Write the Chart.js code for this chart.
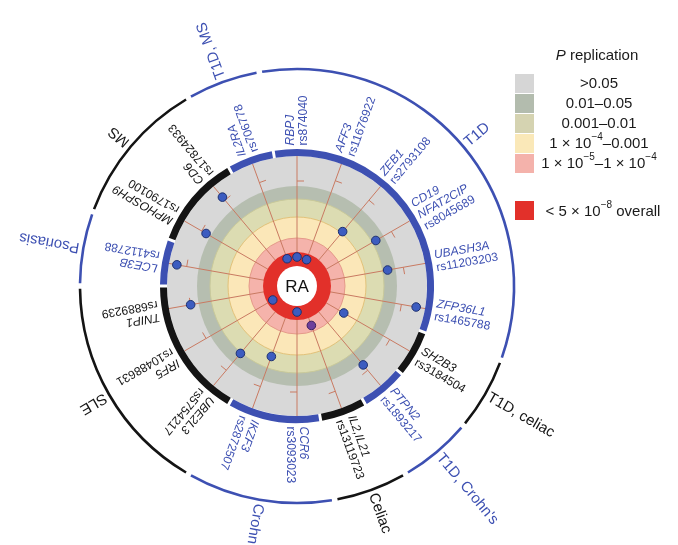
<!DOCTYPE html>
<html>
<head>
<meta charset="utf-8">
<script src="https://cdn.jsdelivr.net/npm/chart.js@4.4.0/dist/chart.umd.min.js"></script>
<style>
  html, body { margin: 0; padding: 0; background: #fff; }
  #wrap { width: 678px; height: 545px; }
</style>
</head>
<body>
<div id="wrap"><canvas id="c" width="678" height="545"></canvas></div>
<script>
// SNPs around the circle, clockwise from 12 o'clock
const genes = [['RBPJ'], ['AFF3'], ['ZEB1'], ['CD19', 'NFAT2CIP'], ['UBASH3A'], ['ZFP36L1'],
  ['SH2B3'], ['PTPN2'], ['IL2,IL21'], ['CCR6'], ['IKZF3'], ['UBE2L3'], ['IRF5'], ['TNIP1'],
  ['LCE3B'], ['MPHOSPH9'], ['CD6'], ['IL2RA']];
const snpIds = ['rs874040', 'rs11676922', 'rs2793108', 'rs8045689', 'rs11203203', 'rs1465788',
  'rs3184504', 'rs1893217', 'rs13119723', 'rs3093023', 'rs2872507', 'rs5754217', 'rs10488631',
  'rs6889239', 'rs4112788', 'rs1790100', 'rs17824933', 'rs706778'];
// radial position of each SNP marker, in ring units (see ringEdges)
const markerRadius = [29, 28, 71, 91, 92, 121, 54, 103, 42, 26, 75, 88, 28, 108, 122, 105, 116, 29];
// marker kind: 0 = replicated marker, 1 = second kind
const markerKind = [0, 0, 0, 0, 0, 0, 0, 0, 1, 0, 0, 0, 0, 0, 0, 0, 0, 0];
// short tick on each spoke, in ring units
const spokeTick = [105, 112, 112, 109, 108, 106, 107, 110, 112, 106, 107, 110, 105, 108, 112, 110, 112, 110];
// other disease(s) that share each SNP
const snpGroup = [1, 1, 1, 1, 1, 1, 2, 3, 4, 5, 5, 6, 6, 6, 7, 8, 8, 0];
const groupNames = ['T1D, MS', 'T1D', 'T1D, celiac', 'T1D, Crohn\'s', 'Celiac', 'Crohn\'s', 'SLE', 'Psoriasis', 'MS'];
// outer edge of each ring, from the centre out: RA disc, overall, then the P replication bands
const ringEdges = [20, 34, 48, 69, 87, 100, 130];
const bandLabels = ['>0.05', '0.01\u20130.05', '0.001\u20130.01', '1 \u00d7 10^{\u22124}\u20130.001',
  '1 \u00d7 10^{\u22125}\u20131 \u00d7 10^{\u22124}'];
const overallLabel = '< 5 \u00d7 10^{\u22128} overall';

// styles
const groupColorKey = [1, 1, 0, 1, 0, 1, 0, 1, 0];
const INK = ['#141414', '#3d50b2'];
const ringFill = ['#ffffff', '#e2302a', '#f5b3ab', '#fbe7b8', '#dcdcb2', '#b6beb0', '#d8d8d8'];
const legendFill = ['#d6d6d6', '#b3bcae', '#d5d3b1', '#fae8b8', '#f4b2ab'];
const SPOKE = '#c97a62';
const FONT = '"Liberation Sans", Arial, Helvetica, sans-serif';

function sectorAngle(scale, i) { return scale.getIndexAngle(i) - Math.PI / 2; }

function radialText(ctx, x0, y0, phi, r0, lines, fonts, lh, color) {
  ctx.save();
  ctx.translate(x0 + r0 * Math.cos(phi), y0 + r0 * Math.sin(phi));
  ctx.rotate(phi);
  ctx.textAlign = 'left';
  ctx.textBaseline = 'middle';
  ctx.fillStyle = color;
  lines.forEach((t, k) => {
    ctx.font = fonts[k];
    ctx.fillText(t, 0, (k - (lines.length - 1) / 2) * lh);
  });
  ctx.restore();
}

// text with ^{...} superscripts, centred on cx
function richText(ctx, str, cx, cy, size) {
  const parts = [];
  const re = /\^\{([^}]*)\}/g;
  let last = 0, m;
  while ((m = re.exec(str))) {
    if (m.index > last) parts.push({ t: str.slice(last, m.index), sup: false });
    parts.push({ t: m[1], sup: true });
    last = re.lastIndex;
  }
  if (last < str.length) parts.push({ t: str.slice(last), sup: false });
  const fNorm = size + 'px ' + FONT, fSup = Math.round(size * 0.68) + 'px ' + FONT;
  let w = 0;
  parts.forEach(p => { ctx.font = p.sup ? fSup : fNorm; p.w = ctx.measureText(p.t).width; w += p.w; });
  let x = cx - w / 2;
  ctx.textAlign = 'left';
  ctx.textBaseline = 'middle';
  parts.forEach(p => {
    ctx.font = p.sup ? fSup : fNorm;
    ctx.fillText(p.t, x, p.sup ? cy - size * 0.42 : cy);
    x += p.w;
  });
}

function groupSpans() {
  return groupNames.map((name, g) => {
    const idx = snpGroup.map((v, i) => v === g ? i : -1).filter(i => i >= 0);
    return { g, first: Math.min(...idx), last: Math.max(...idx) };
  });
}

const circlePlugin = {
  id: 'circleLayers',
  beforeDraw(chart) {
    const s = chart.scales.r, ctx = chart.ctx;
    ctx.save();
    for (let k = ringEdges.length - 1; k >= 2; k--) {
      ctx.beginPath();
      ctx.arc(s.xCenter, s.yCenter, s.getDistanceFromCenterForValue(ringEdges[k]), 0, 2 * Math.PI);
      ctx.fillStyle = ringFill[k];
      ctx.fill();
    }
    // thin edges between the coloured bands
    const edgeCol = ['', '', '#e59a8a', '#e2c27a', '#c9c99a'];
    for (let k = 2; k <= 4; k++) {
      ctx.beginPath();
      ctx.arc(s.xCenter, s.yCenter, s.getDistanceFromCenterForValue(ringEdges[k]), 0, 2 * Math.PI);
      ctx.strokeStyle = edgeCol[k];
      ctx.lineWidth = 1;
      ctx.stroke();
    }
    ctx.restore();
  },
  beforeDatasetsDraw(chart) {
    const s = chart.scales.r, ctx = chart.ctx;
    ctx.save();
    // ticks on the spokes, pointing clockwise
    ctx.strokeStyle = SPOKE;
    ctx.lineWidth = 1;
    spokeTick.forEach((v, i) => {
      const p = s.getPointPositionForValue(i, v);
      const a = sectorAngle(s, i) + Math.PI / 2;
      ctx.beginPath();
      ctx.moveTo(p.x, p.y);
      ctx.lineTo(p.x + 7 * Math.cos(a), p.y + 7 * Math.sin(a));
      ctx.stroke();
    });
    ctx.beginPath();
    ctx.arc(s.xCenter, s.yCenter, s.getDistanceFromCenterForValue(ringEdges[1]), 0, 2 * Math.PI);
    ctx.fillStyle = ringFill[1];
    ctx.fill();
    ctx.beginPath();
    ctx.arc(s.xCenter, s.yCenter, s.getDistanceFromCenterForValue(ringEdges[0]), 0, 2 * Math.PI);
    ctx.fillStyle = ringFill[0];
    ctx.fill();
    ctx.fillStyle = '#111';
    ctx.font = '17px ' + FONT;
    ctx.textAlign = 'center';
    ctx.textBaseline = 'middle';
    ctx.fillText('RA', s.xCenter, s.yCenter + 1);
    ctx.restore();
  },
  afterDraw(chart) {
    const s = chart.scales.r, ctx = chart.ctx;
    const cx = s.xCenter, cy = s.yCenter;
    const sec = 2 * Math.PI / genes.length;
    ctx.save();
    // inner band just outside the rings, and the outer disease arcs
    const rIn = s.getDistanceFromCenterForValue(ringEdges[6] + 3.5);
    const rOut = s.getDistanceFromCenterForValue(217);
    groupSpans().forEach(sp => {
      const a0 = sectorAngle(s, sp.first) - sec / 2, a1 = sectorAngle(s, sp.last) + sec / 2;
      const col = INK[groupColorKey[sp.g]];
      ctx.strokeStyle = col;
      ctx.lineCap = 'butt';
      ctx.lineWidth = 7;
      ctx.beginPath();
      ctx.arc(cx, cy, rIn, a0 + 0.011, a1 - 0.011);
      ctx.stroke();
      ctx.lineWidth = 2.6;
      ctx.beginPath();
      ctx.arc(cx, cy, rOut, a0 + 0.013, a1 - 0.013);
      ctx.stroke();
      const mid = (sectorAngle(s, sp.first) + sectorAngle(s, sp.last)) / 2;
      radialText(ctx, cx, cy, mid, s.getDistanceFromCenterForValue(221), [groupNames[sp.g]],
        ['15px ' + FONT], 0, col);
    });
    // SNP labels
    const r0 = s.getDistanceFromCenterForValue(140.5);
    genes.forEach((g, i) => {
      const lines = g.concat([snpIds[i]]);
      const fonts = g.map(() => 'italic 12px ' + FONT).concat(['12px ' + FONT]);
      radialText(ctx, cx, cy, sectorAngle(s, i), r0, lines, fonts, 13, INK[groupColorKey[snpGroup[i]]]);
    });
    // legend
    ctx.fillStyle = '#1a1a1a';
    ctx.textBaseline = 'middle';
    ctx.font = 'italic 15px ' + FONT;
    const pW = ctx.measureText('P').width;
    ctx.font = '15px ' + FONT;
    const restW = ctx.measureText(' replication').width;
    const tx = 597 - (pW + restW) / 2;
    ctx.textAlign = 'left';
    ctx.font = 'italic 15px ' + FONT;
    ctx.fillText('P', tx, 56);
    ctx.font = '15px ' + FONT;
    ctx.fillText(' replication', tx + pW, 56);
    const rowTop = [74, 94, 114, 134, 154];
    bandLabels.forEach((lab, k) => {
      ctx.fillStyle = legendFill[k];
      ctx.fillRect(515, rowTop[k], 19, 19);
      ctx.fillStyle = '#1a1a1a';
      richText(ctx, lab, 599, rowTop[k] + 10, 15);
    });
    ctx.fillStyle = ringFill[1];
    ctx.fillRect(515, 201, 19, 19);
    ctx.fillStyle = '#1a1a1a';
    richText(ctx, overallLabel, 603, 212, 15);
    ctx.restore();
  }
};

new Chart(document.getElementById('c'), {
  type: 'radar',
  data: {
    labels: genes.map(g => g.join(' ')),
    datasets: [{
      data: markerRadius,
      showLine: false,
      fill: false,
      borderWidth: 0,
      pointRadius: 4.3,
      pointHoverRadius: 4.3,
      pointBorderWidth: 1,
      pointBackgroundColor: markerKind.map(k => k ? '#6d3f9c' : '#3c5cc0'),
      pointBorderColor: markerKind.map(k => k ? '#3b1f5e' : '#1e3170')
    }]
  },
  options: {
    responsive: false,
    animation: false,
    events: [],
    layout: { padding: { left: 167, top: 156, right: 251, bottom: 129 } },
    plugins: { legend: { display: false }, tooltip: { enabled: false } },
    scales: {
      r: {
        min: 0,
        max: 130,
        startAngle: 0,
        ticks: { display: false },
        grid: { display: false },
        angleLines: { display: true, color: SPOKE, lineWidth: 1 },
        pointLabels: { display: false }
      }
    }
  },
  plugins: [circlePlugin]
});
</script>
</body>
</html>
